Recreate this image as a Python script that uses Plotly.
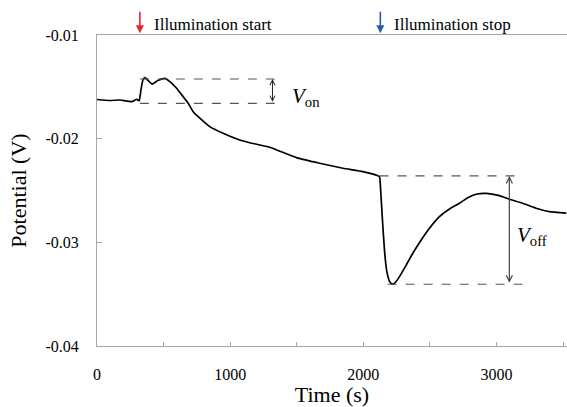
import plotly.graph_objects as go

# Data
time_s = [0, 97, 172, 260, 298, 317, 330, 345, 360, 415, 457, 510, 547, 598, 647, 685, 722, 760,
          847, 947, 1072, 1147, 1297, 1498, 1672, 1847, 1997, 2110, 2122, 2128, 2143, 2160, 2177,
          2198, 2218, 2242, 2272, 2323, 2372, 2435, 2497, 2572, 2648, 2722, 2785, 2848, 2923,
          3022, 3097, 3197, 3298, 3397, 3525]
potential_v = [-0.01622, -0.01632, -0.01627, -0.01643, -0.01620, -0.01634, -0.01530, -0.01434,
               -0.01412, -0.01473, -0.01439, -0.01418, -0.01450, -0.01514, -0.01595, -0.01659,
               -0.01740, -0.01788, -0.01884, -0.01948, -0.02013, -0.02039, -0.02083, -0.02183,
               -0.02237, -0.02285, -0.02318, -0.02357, -0.02366, -0.02446, -0.02765, -0.03090,
               -0.03283, -0.03379, -0.03404, -0.03385, -0.03331, -0.03218, -0.03105, -0.02977,
               -0.02864, -0.02752, -0.02678, -0.02623, -0.02569, -0.02536, -0.02528, -0.02550,
               -0.02584, -0.02623, -0.02671, -0.02704, -0.02719]

von_levels = [-0.014243, -0.016587]
von_span = [322, 1335]
von_arrow_x = 1318
voff_levels = [-0.023597, -0.034041]
voff_span_top = [2122, 3195]
voff_span_bottom = [2183, 3195]
voff_arrow_x = 3097
illum_start_t = 322
illum_stop_t = 2128

x_tickvals = [0, 1000, 2000, 3000]
y_tickvals = [-0.04, -0.03, -0.02, -0.01]
y_ticktext = ["-0.04", "-0.03", "-0.02", "-0.01"]

FONT = "Liberation Serif"
AXIS_GRAY = "#a6a6a6"
DASH_GRAY = "#555555"

fig = go.Figure()
fig.add_trace(go.Scatter(x=time_s, y=potential_v, mode="lines",
                         line=dict(color="black", width=1.7, shape="spline", smoothing=0.4),
                         showlegend=False))

shapes = []
for lvl in von_levels:
    shapes.append(dict(type="line", xref="x", yref="y", x0=von_span[0], x1=von_span[1],
                       y0=lvl, y1=lvl, line=dict(color=DASH_GRAY, width=1.2, dash="dash")))
shapes.append(dict(type="line", xref="x", yref="y", x0=voff_span_top[0], x1=voff_span_top[1],
                   y0=voff_levels[0], y1=voff_levels[0],
                   line=dict(color=DASH_GRAY, width=1.2, dash="dash")))
shapes.append(dict(type="line", xref="x", yref="y", x0=voff_span_bottom[0], x1=voff_span_bottom[1],
                   y0=voff_levels[1], y1=voff_levels[1],
                   line=dict(color=DASH_GRAY, width=1.2, dash="dash")))

annotations = [
    dict(x=von_arrow_x, y=von_levels[0], ax=von_arrow_x, ay=von_levels[1], xref="x", yref="y",
         axref="x", ayref="y", showarrow=True, arrowhead=5, startarrowhead=5, arrowside="end+start",
         arrowwidth=1, arrowsize=1, startarrowsize=1, arrowcolor="#222222", text=""),
    dict(x=voff_arrow_x, y=voff_levels[0], ax=voff_arrow_x, ay=voff_levels[1], xref="x", yref="y",
         axref="x", ayref="y", showarrow=True, arrowhead=5, startarrowhead=5, arrowside="end+start",
         arrowwidth=1.2, arrowsize=1, startarrowsize=1, arrowcolor="#444444", text=""),
    dict(x=1447, y=-0.01598, xref="x", yref="y", xanchor="left", yanchor="middle", showarrow=False,
         text="<i>V</i><sub>on</sub>", font=dict(family=FONT, size=21, color="black")),
    dict(x=3142, y=-0.02938, xref="x", yref="y", xanchor="left", yanchor="middle", showarrow=False,
         text="<i>V</i><sub>off</sub>", font=dict(family=FONT, size=21, color="black")),
    dict(x=illum_start_t, y=1.006, xref="x", yref="paper", ax=0, ay=-23, showarrow=True,
         arrowhead=2, arrowsize=1, arrowwidth=1.6, arrowcolor="#e8262b", text=""),
    dict(x=illum_stop_t, y=1.006, xref="x", yref="paper", ax=0, ay=-23, showarrow=True,
         arrowhead=2, arrowsize=1, arrowwidth=1.6, arrowcolor="#2b5aa8", text=""),
    dict(x=412, y=1.034, xref="x", yref="paper", xanchor="left", yanchor="middle", showarrow=False,
         text="Illumination start", font=dict(family=FONT, size=17, color="black")),
    dict(x=2212, y=1.034, xref="x", yref="paper", xanchor="left", yanchor="middle", showarrow=False,
         text="Illumination stop", font=dict(family=FONT, size=17, color="black")),
]

fig.update_layout(
    width=567, height=407,
    margin=dict(l=97, r=0, t=35, b=61),
    paper_bgcolor="white", plot_bgcolor="white",
    font=dict(family=FONT, size=16, color="black"),
    shapes=shapes, annotations=annotations,
    xaxis=dict(range=[0, 3530], tickvals=x_tickvals, ticks="inside", ticklen=4,
               tickcolor=AXIS_GRAY, showline=True, linecolor=AXIS_GRAY, linewidth=1,
               mirror=True, showgrid=False, zeroline=False, ticklabelstandoff=14,
               minor=dict(dtick=500, ticks="inside", ticklen=4, tickcolor=AXIS_GRAY),
               tickfont=dict(family=FONT, size=16, color="black"),
               title=dict(text="Time (s)", standoff=0, font=dict(family=FONT, size=22, color="black"))),
    yaxis=dict(range=[-0.04, -0.01], tickvals=y_tickvals, ticktext=y_ticktext, ticks="inside",
               ticklen=5, tickcolor=AXIS_GRAY, showline=True, linecolor=AXIS_GRAY, linewidth=1,
               showgrid=False, zeroline=False, ticklabelstandoff=14,
               tickfont=dict(family=FONT, size=16, color="black"),
               title=dict(text="Potential (V)", standoff=12, font=dict(family=FONT, size=22, color="black"))),
)

fig.write_html("out.html")
